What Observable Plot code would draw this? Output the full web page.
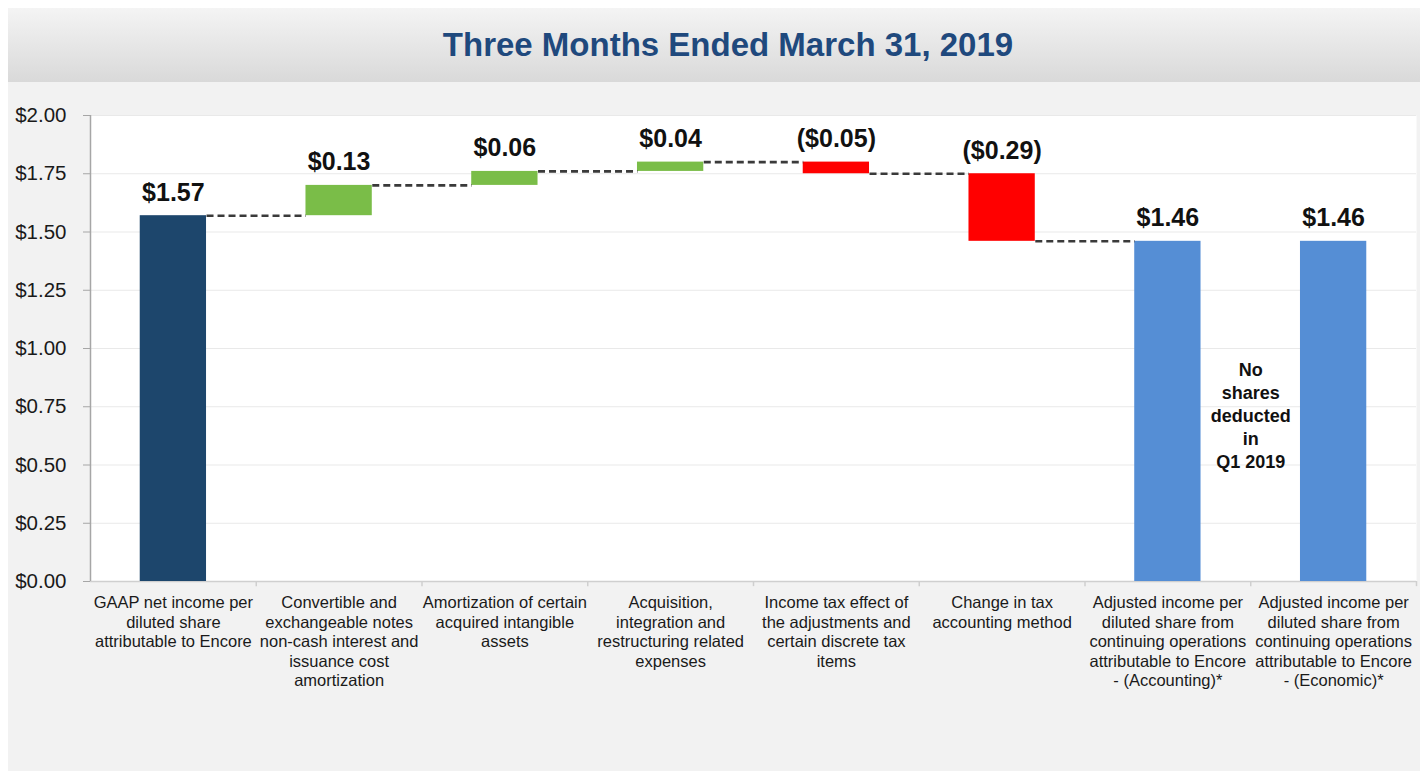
<!DOCTYPE html>
<html>
<head>
<meta charset="utf-8">
<script src="https://cdn.jsdelivr.net/npm/d3@7"></script>
<script src="https://cdn.jsdelivr.net/npm/@observablehq/plot@0.6"></script>
<style>
  html, body { margin: 0; padding: 0; background: #ffffff; }
  #page { position: relative; width: 1420px; height: 771px; overflow: hidden; font-family: "Liberation Sans", Arial, sans-serif; }
  #panel { position: absolute; left: 8px; top: 8px; width: 1412px; height: 763px; background: #f2f2f2; }
  #titleband { position: absolute; left: 8px; top: 8px; width: 1412px; height: 74px;
    background: linear-gradient(#f4f4f4, #d9d9d9); display: flex; align-items: center; justify-content: center; }
  #titleband h1 { margin: 0; padding-left: 28px; font-size: 33px; font-weight: bold; color: #1f497d; }
  #chart { position: absolute; left: 0; top: 82px; }
</style>
</head>
<body>
<div id="page">
  <div id="panel"></div>
  <div id="titleband"><h1>Three Months Ended March 31, 2019</h1></div>
  <div id="chart"></div>
</div>
<script>
const categories = [
  "GAAP net income per\ndiluted share\nattributable to Encore",
  "Convertible and\nexchangeable notes\nnon-cash interest and\nissuance cost\namortization",
  "Amortization of certain\nacquired intangible\nassets",
  "Acquisition,\nintegration and\nrestructuring related\nexpenses",
  "Income tax effect of\nthe adjustments and\ncertain discrete tax\nitems",
  "Change in tax\naccounting method",
  "Adjusted income per\ndiluted share from\ncontinuing operations\nattributable to Encore\n- (Accounting)*",
  "Adjusted income per\ndiluted share from\ncontinuing operations\nattributable to Encore\n- (Economic)*"
];
const values = [1.57, 0.13, 0.06, 0.04, -0.05, -0.29, 1.46, 1.46];
const kinds = ["total", "delta", "delta", "delta", "delta", "delta", "total", "total"];
const valueLabels = ["$1.57", "$0.13", "$0.06", "$0.04", "($0.05)", "($0.29)", "$1.46", "$1.46"];
const yTicks = [0, 0.25, 0.5, 0.75, 1.0, 1.25, 1.5, 1.75, 2.0];
const noteText = ["No\nshares\ndeducted\nin\nQ1 2019"];

// build waterfall table
let running = 0;
const bars = values.map((v, i) => {
  let y1, y2;
  if (kinds[i] === "total") { y1 = 0; y2 = v; running = v; }
  else { y1 = running; y2 = running + v; running = y2; }
  let color;
  if (i === 0) color = "#1d466c";
  else if (kinds[i] === "total") color = "#558ed5";
  else color = v >= 0 ? "#7abd48" : "#ff0000";
  return { i, y1, y2, end: y2, top: Math.max(y1, y2), label: valueLabels[i], color };
});
const connectors = bars.slice(0, 6).map(b => ({ x1: b.i + 0.7, x2: b.i + 1.3, y: b.end }));
const separators = d3.range(1, categories.length + 1);

const chart = Plot.plot({
  width: 1420,
  height: 689,
  marginLeft: 90,
  marginRight: 4,
  marginTop: 33,
  marginBottom: 190,
  style: { fontFamily: "'Liberation Sans', Arial, sans-serif", fontSize: "20px", color: "#1a1a1a", background: "transparent", overflow: "visible" },
  x: { domain: [0, categories.length], axis: null },
  y: { domain: [0, 2], axis: null },
  marks: [
    Plot.frame({ fill: "#ffffff", stroke: null }),
    Plot.ruleY(yTicks.filter(d => d > 0), { stroke: "#e9e9e9", strokeWidth: 1 }),
    Plot.ruleY([0], { stroke: "#cfcfcf", strokeWidth: 1.5 }),
    Plot.ruleX(separators, { y1: 0, y2: -0.022, stroke: "#cfcfcf", strokeWidth: 1.5 }),
    Plot.ruleX([0], { y1: 0, y2: 2, stroke: "#a6a6a6", strokeWidth: 1.5 }),
    Plot.axisY({ ticks: yTicks, tickFormat: d => "$" + d.toFixed(2), tickSize: 7, tickPadding: 17, stroke: "#a6a6a6", fill: "#1a1a1a", fontSize: 20.5, label: null }),
    Plot.rect(bars, { x1: d => d.i + 0.3, x2: d => d.i + 0.7, y1: "y1", y2: "y2", fill: "color" }),
    Plot.link(connectors, { x1: "x1", x2: "x2", y1: "y", y2: "y", stroke: "#3a3a3a", strokeWidth: 2.6, strokeDasharray: "7,4" }),
    Plot.text(bars, { x: d => d.i + 0.5, y: "top", text: "label", dy: -15, lineAnchor: "bottom", fontSize: 25, fontWeight: "bold", fill: "#111111" }),
    Plot.text(categories, { x: (d, i) => i + 0.5, y: 0, text: d => d, dy: 13, lineAnchor: "top", lineHeight: 1.18, fontSize: 16.5, fill: "#1a1a1a" }),
    Plot.text(noteText, { x: 7, y: 0.717, text: d => d, lineAnchor: "middle", lineHeight: 1.28, fontSize: 18, fontWeight: "bold", fill: "#111111" })
  ]
});
document.getElementById("chart").appendChild(chart);
</script>
</body>
</html>
